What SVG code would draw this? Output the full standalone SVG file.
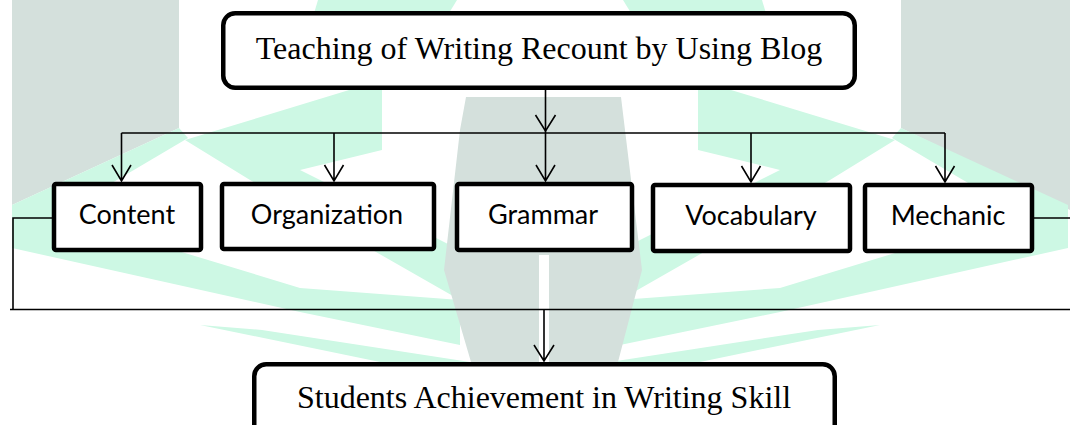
<svg xmlns="http://www.w3.org/2000/svg" width="1070" height="425" viewBox="0 0 1070 425">
<style>
.gray{fill:#d4e0dc}
.mint{fill:#cdf8e4}
.tbox{fill:#fff;stroke:#000;stroke-width:4.5}
.box{fill:#fff;stroke:#000;stroke-width:4.5}
.ln{fill:none;stroke:#000;stroke-width:1.6}
.ttl{font-family:"Liberation Serif","Times New Roman",serif;font-size:32px;fill:#000;text-anchor:middle}
.lbl{font-family:Lato,"Open Sans",sans-serif;font-size:27px;fill:#000;text-anchor:middle}
</style>
<defs>
<g id="mintL">
<polygon points="318,0 457,0 420,60 300,60"/>
<polygon points="185,140 382,80 382,150 300,170 460,250 460,300 250,180"/>
<polygon points="179,128 188,138 12,242 12,205"/>
<polygon points="12,215 60,215 300,288 460,300 460,345 300,312 12,248"/>
<polygon points="200,325 262,330 470,362 380,362"/>
</g>
</defs>
<rect width="1070" height="425" fill="#fff"/>
<g id="watermark">
<polygon class="gray" points="12,0 179,0 179,128 12,205"/>
<polygon class="gray" points="901,0 1070,0 1070,210 901,128"/>
<use href="#mintL" class="mint"/>
<use href="#mintL" class="mint" transform="matrix(-1,0,0,1,1080,0)"/>
<path class="gray" d="M466,97 L621,97 L625,130 L642,270 L618,362 L549,362 L549,255 L539,255 L539,362 L471,362 L444,270 L460,130 Z"/>
</g>
<g id="connectors">
<path class="ln" d="M545.5,90 V133"/>
<path class="ln" d="M535.5,115 L545.5,131 L555.5,115"/>
<path class="ln" d="M121.5,133 H945"/>
<path class="ln" d="M121.5,133 V181 M112,165 L121.5,181 L131,165"/>
<path class="ln" d="M334,133 V181 M324.5,165 L334,181 L343.5,165"/>
<path class="ln" d="M545.5,133 V181 M536,165 L545.5,181 L555,165"/>
<path class="ln" d="M751,133 V182 M741.5,166 L751,182 L760.5,166"/>
<path class="ln" d="M945,133 V182 M935.5,166 L945,182 L954.5,166"/>
<path class="ln" d="M52,218 H13 V309.5"/>
<path class="ln" d="M10,309.5 H1070"/>
<path class="ln" d="M1034,218 H1070"/>
<path class="ln" d="M544,309.5 V361 M534,345 L544,361 L554,345"/>
</g>
<g id="top">
<rect class="tbox" x="223.25" y="13.25" width="631.5" height="74.5" rx="12"/>
<text class="ttl" x="539" y="59">Teaching of Writing Recount by Using Blog</text>
</g>
<g id="content">
<rect class="box" x="54" y="184" width="147" height="66" rx="2"/>
<text class="lbl" x="127" y="224">Content</text>
</g>
<g id="organization">
<rect class="box" x="222" y="184" width="212" height="65" rx="2"/>
<text class="lbl" x="327" y="224">Organization</text>
</g>
<g id="grammar">
<rect class="box" x="457" y="184" width="175" height="66" rx="2"/>
<text class="lbl" x="543" y="224">Grammar</text>
</g>
<g id="vocabulary">
<rect class="box" x="653" y="185" width="197" height="66" rx="2"/>
<text class="lbl" x="751" y="225">Vocabulary</text>
</g>
<g id="mechanic">
<rect class="box" x="865" y="185" width="167" height="66" rx="2"/>
<text class="lbl" x="948" y="225">Mechanic</text>
</g>
<g id="bottom">
<rect class="tbox" x="254.25" y="364.25" width="580.5" height="80" rx="12"/>
<text class="ttl" x="544" y="408">Students Achievement in Writing Skill</text>
</g>
</svg>
